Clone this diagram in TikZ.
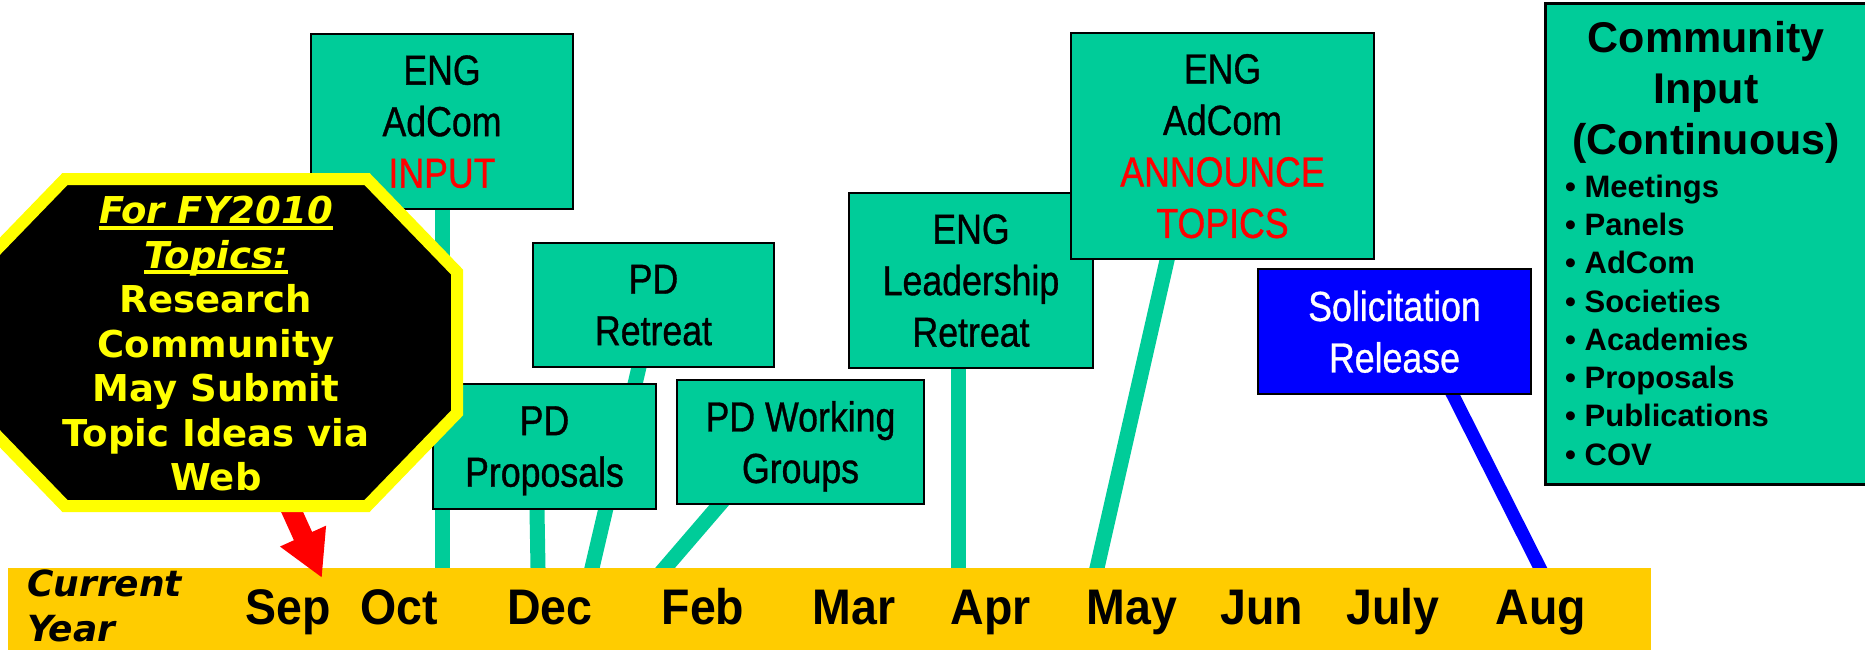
\documentclass[tikz,border=0pt]{standalone}
\usepackage{fontspec}
\usetikzlibrary{arrows.meta}
\newfontfamily\boxfont[FakeStretch=0.85,FakeBold=0.8]{Liberation Sans}
\newfontfamily\monthfont[FakeStretch=0.93]{Liberation Sans}
\newfontfamily\commfont{Liberation Sans}
\newfontfamily\octfont[BoldFont={DejaVu Sans Bold},BoldItalicFont={DejaVu Sans Bold Oblique},ItalicFont={DejaVu Sans Oblique}]{DejaVu Sans}
\definecolor{tealc}{HTML}{00CC99}
\definecolor{barc}{HTML}{FFCC00}
\definecolor{redc}{HTML}{FF0000}
\definecolor{bluec}{HTML}{0000FF}
\definecolor{yellowc}{HTML}{FFFF00}
\newcommand\octul[1]{\setbox0\hbox{#1}\rlap{\rule[-6pt]{\wd0}{4pt}}\box0}
\pgfdeclarelayer{lines}
\pgfdeclarelayer{barlayer}
\pgfsetlayers{lines,barlayer,main}
\begin{document}
\begin{tikzpicture}[x=1pt,y=-1pt,
  gbox/.style={draw=black, line width=2.5pt, fill=tealc, inner sep=0pt, align=center, text depth=0pt, font=\boxfont\fontsize{42}{51.5}\selectfont},
  tline/.style={draw=tealc, line width=15pt, shorten <=-10pt, shorten >=-10pt},
  bline/.style={draw=bluec, line width=13pt, shorten <=-10pt, shorten >=-10pt},
  month/.style={font=\monthfont\bfseries\fontsize{50}{60}\selectfont, anchor=base, inner sep=0pt},
  redarrow/.style={draw=redc, line width=20pt, -{Triangle[length=46pt,width=47pt]}}
]
\useasboundingbox (0,0) rectangle (1865,650);

% boxes
\node[gbox, minimum width=262, minimum height=175] (input) at (442,121.5) {ENG\\AdCom\\\textcolor{redc}{INPUT}};
\node[gbox, minimum width=241, minimum height=124] (pdret) at (653.5,305) {PD\\Retreat};
\node[gbox, minimum width=223, minimum height=125] (pdprop) at (544.5,446.5) {PD\\Proposals};
\node[gbox, minimum width=247, minimum height=124] (pdwg) at (800.5,442) {PD Working\\Groups};
\node[gbox, minimum width=244, minimum height=175] (lead) at (971,280.5) {ENG\\Leadership\\Retreat};
\node[gbox, minimum width=303, minimum height=226] (ann) at (1222.5,146) {ENG\\AdCom\\\textcolor{redc}{ANNOUNCE}\\\textcolor{redc}{TOPICS}};
\node[gbox, fill=bluec, text=white, minimum width=273, minimum height=125] (sol) at (1394.5,331.5) {Solicitation\\Release};

% community box
\node[draw=black, line width=3pt, fill=tealc, minimum width=324, minimum height=481, anchor=north west, inner sep=0pt] (comm) at (1544,2) {};
\node[font=\commfont\bfseries\fontsize{43}{51}\selectfont, align=center, text depth=0pt, inner sep=0pt] (commhead) at (1706,88) {Community\\Input\\(Continuous)};
\node[font=\commfont\bfseries\fontsize{31}{38.3}\selectfont, align=left, text depth=0pt, inner sep=0pt, anchor=west] (commlist) at (1565,320) {• Meetings\\• Panels\\• AdCom\\• Societies\\• Academies\\• Proposals\\• Publications\\• COV};

% octagon
\path[draw=yellowc, fill=black, line width=12pt, line join=miter]
  (65,179) -- (367,179) -- (457,272) -- (457,413) -- (367,506) -- (65,506) -- (-25,413) -- (-25,272) -- cycle;
\node[font=\octfont\bfseries\fontsize{37}{44.5}\selectfont, text=yellowc, align=center, inner sep=0pt] (oct) at (216,344)
  {\octul{\itshape For FY2010}\\\octul{\itshape Topics:}\\Research\\Community\\May Submit\\Topic Ideas via\\Web};

% bar-top coordinates
\coordinate (b1) at (442,568);
\coordinate (b2) at (538,568);
\coordinate (b3) at (592,568);
\coordinate (b4) at (665,568);
\coordinate (b5) at (958,568);
\coordinate (b6) at (1097,568);
\coordinate (b7) at (1540,568);
\coordinate (tip) at (322,578);

\begin{pgfonlayer}{lines}
\draw[tline] (input.south) -- (b1);
\draw[tline] ([xshift=-7.5pt]pdprop.south) -- (b2);
\draw[tline] (pdret.center) -- (b3);
\draw[tline] ([xshift=-81.5pt]pdwg.south) -- (b4);
\draw[tline] ([xshift=-13pt]lead.south) -- (b5);
\draw[tline] ([xshift=-55.5pt]ann.south) -- (b6);
\draw[bline] ([xshift=58.5pt]sol.south) -- (b7);
\end{pgfonlayer}

\begin{pgfonlayer}{barlayer}
\node[fill=barc, minimum width=1643, minimum height=84, anchor=north west, inner sep=0pt] (bar) at (8,568) {};
\draw[redarrow] (oct.center) -- (tip);
\end{pgfonlayer}

% timeline labels
\node[font=\octfont\bfseries\itshape\fontsize{36}{45}\selectfont, align=left, anchor=west, inner sep=0pt, text depth=0pt] (cy) at (27,606) {Current\\Year};
\node[month] (sep) at (288,624) {Sep};
\node[month] (oct2) at (399,624) {Oct};
\node[month] (dec) at (550,624) {Dec};
\node[month] (feb) at (703,624) {Feb};
\node[month] (mar) at (854,624) {Mar};
\node[month] (apr) at (991,624) {Apr};
\node[month] (may) at (1132,624) {May};
\node[month] (jun) at (1262,624) {Jun};
\node[month] (jul) at (1393,624) {July};
\node[month] (aug) at (1541,624) {Aug};
\end{tikzpicture}
\end{document}
